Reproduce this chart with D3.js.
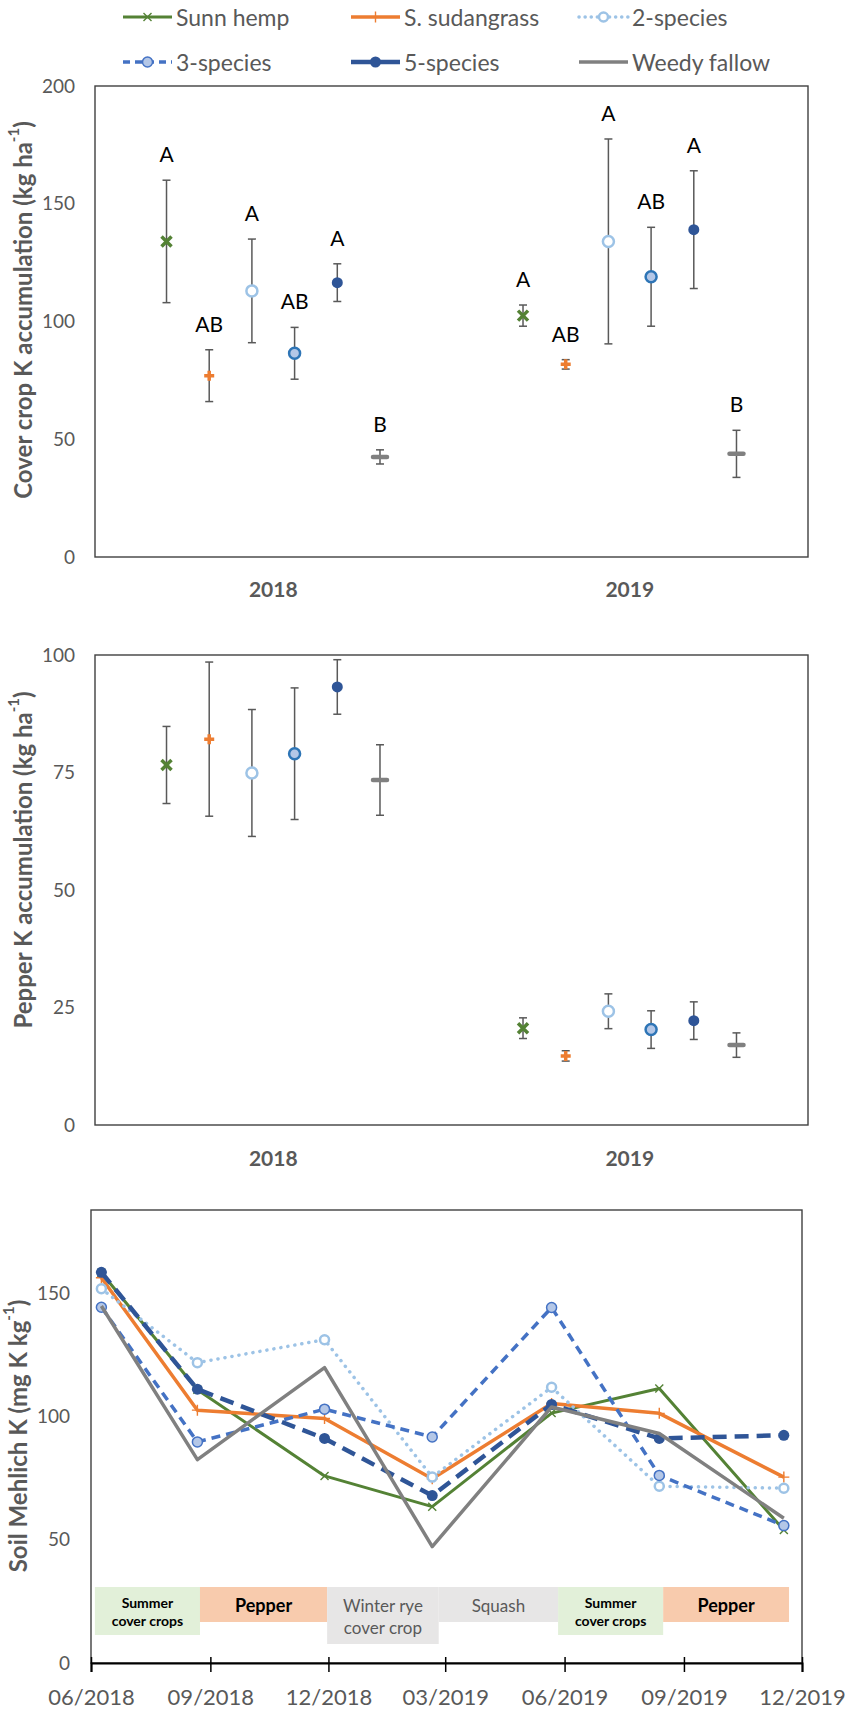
<!DOCTYPE html>
<html>
<head>
<meta charset="utf-8">
<script src="https://cdn.jsdelivr.net/npm/d3@7"></script>
<style>
  body { margin: 0; background: #fff; }
  text { font-family: Lato, "Open Sans", sans-serif; }
</style>
</head>
<body>
<div id="chart"></div>
<script>
// treatments and years
const treatments = ["Sunn hemp", "S. sudangrass", "2-species", "3-species", "5-species", "Weedy fallow"];
const years = ["2018", "2019"];

// cover crop K accumulation (kg ha-1) : mean + error
const coverK2018 = [134, 77, 113, 86.5, 116.5, 42.5];
const coverErr2018 = [26, 11, 22, 11, 8, 3];
const coverLetters2018 = ["A", "AB", "A", "AB", "A", "B"];
const coverK2019 = [102.5, 81.8, 134, 119, 139, 43.8];
const coverErr2019 = [4.5, 2, 43.5, 21, 25, 10];
const coverLetters2019 = ["A", "AB", "A", "AB", "A", "B"];

// pepper K accumulation (kg ha-1)
const pepperK2018 = [76.6, 82.1, 74.9, 79, 93.2, 73.4];
const pepperErr2018 = [8.2, 16.4, 13.5, 14, 5.8, 7.5];
const pepperK2019 = [20.6, 14.7, 24.2, 20.3, 22.2, 17];
const pepperErr2019 = [2.2, 1.1, 3.7, 4, 4, 2.6];

// soil Mehlich K (mg K kg-1), one value per sampling date
const sampleDates = ["2018-06-09", "2018-08-22", "2018-11-28", "2019-02-19", "2019-05-22", "2019-08-13", "2019-11-17"];
const soilSunnHemp = [158.5, 111, 76, 63.5, 101.5, 111.5, 54];
const soilSudangrass = [156.5, 102.7, 99.3, 74.8, 105.4, 101.4, 75.5];
const soil2Species = [152, 122, 131.3, 75.5, 112, 71.8, 71];
const soil3Species = [144.5, 89.8, 103.1, 91.8, 144.4, 76.2, 55.8];
const soil5Species = [158.7, 111.2, 91.2, 68, 105, 91.2, 92.5];
const soilWeedy = [145, 82.6, 120, 47.3, 104, 93.2, 58.8];
const soilSeries = [soilSunnHemp, soilSudangrass, soil2Species, soil3Species, soil5Species, soilWeedy];

// crop periods shown as boxes in the bottom panel
const periodNames = [["Summer", "cover crops"], ["Pepper"], ["Winter rye", "cover crop"], ["Squash"], ["Summer", "cover crops"], ["Pepper"]];
const periodStarts = ["2018-06-04", "2018-08-24", "2018-11-30", "2019-02-24", "2019-05-27", "2019-08-16"];
const periodEnds = ["2018-08-24", "2018-11-30", "2019-02-24", "2019-05-27", "2019-08-16", "2019-11-21"];
const periodKinds = ["cover", "pepper", "rye", "squash", "cover", "pepper"];

const dateTicks = ["2018-06-01", "2018-09-01", "2018-12-01", "2019-03-01", "2019-06-01", "2019-09-01", "2019-12-01"];

// couleurs / styles
const colors = ["#548235", "#ED7D31", "#9DC3E6", "#4472C4", "#2F5597", "#808080"];
const dashes = [null, null, "0.1 7", "9 6", "14 8", null];
const lineWidths = [3, 3.5, 3.5, 3.5, 4.5, 3.5];
const grey = "#595959";
const parseDate = d3.timeParse("%Y-%m-%d");

const svg = d3.select("#chart").append("svg").attr("width", 851).attr("height", 1715);

// draws the marker of series i, "big" = panels a/b, otherwise line panel
function marker(g, i, big) {
  const c = colors[i];
  if (i == 0) {
    const s = big ? 5 : 4;
    g.append("path").attr("d", `M${-s},${-s}L${s},${s}M${-s},${s}L${s},${-s}`)
      .attr("stroke", c).attr("stroke-width", big ? 3.5 : 1.4).attr("fill", "none");
  } else if (i == 1) {
    const s = big ? 5 : 5.5;
    g.append("path").attr("d", `M${-s},0L${s},0M0,${-s}L0,${s}`)
      .attr("stroke", c).attr("stroke-width", big ? 3.5 : 1.4).attr("fill", "none");
  } else if (i == 2) {
    g.append("circle").attr("r", big ? 5.5 : 4.5).attr("fill", "#fff")
      .attr("stroke", c).attr("stroke-width", 2.5);
  } else if (i == 3) {
    g.append("circle").attr("r", big ? 5.5 : 5).attr("fill", "#B4C7E7")
      .attr("stroke", big ? "#2E75B6" : "#4472C4").attr("stroke-width", big ? 2.5 : 1.5);
  } else if (i == 4) {
    g.append("circle").attr("r", 5.5).attr("fill", c);
  } else if (big) {
    g.append("path").attr("d", "M-7,0L7,0").attr("stroke", c)
      .attr("stroke-width", 4.5).attr("stroke-linecap", "round");
  }
}

function yTitle(x, y, label) {
  const t = svg.append("text").attr("transform", `translate(${x},${y}) rotate(-90)`)
    .attr("text-anchor", "middle").attr("dominant-baseline", "central")
    .attr("font-size", 24).attr("font-weight", "bold").attr("fill", grey);
  t.append("tspan").text(label);
  t.append("tspan").attr("font-size", 15).attr("dy", -9).text("-1");
  t.append("tspan").attr("dy", 9).text(")");
}

// legend
const legCols = [123, 351, 579];
const legRows = [17, 62];
treatments.forEach(function (name, i) {
  const lx = legCols[i % 3];
  const ly = legRows[Math.floor(i / 3)];
  const g = svg.append("g");
  g.append("line").attr("x1", lx).attr("x2", lx + 49).attr("y1", ly).attr("y2", ly)
    .attr("stroke", colors[i]).attr("stroke-width", lineWidths[i])
    .attr("stroke-dasharray", i == 2 ? "0.1 6" : i == 3 ? "7 5" : null)
    .attr("stroke-linecap", i == 2 ? "round" : "butt");
  marker(g.append("g").attr("transform", `translate(${lx + 24.5},${ly})`), i, false);
  g.append("text").attr("x", lx + 53).attr("y", ly).attr("dominant-baseline", "central")
    .attr("font-size", 23).attr("fill", grey).text(name);
});

// dot + error bar panels (a and b)
function dotPanel(top, bottom, yMax, step, means, errs, letters, labelPad) {
  const x0 = d3.scaleBand().domain(years).range([95, 808]);
  const x1 = d3.scalePoint().domain(treatments).range([0, x0.bandwidth()]).padding(1.675);
  const y = d3.scaleLinear().domain([0, yMax]).range([bottom, top]);

  svg.append("rect").attr("x", 95).attr("y", top).attr("width", 713).attr("height", bottom - top)
    .attr("fill", "none").attr("stroke", "#404040").attr("stroke-width", 1.4);

  const ya = svg.append("g").attr("transform", "translate(95,0)")
    .call(d3.axisLeft(y).tickValues(d3.range(0, yMax + 1, step)).tickSize(0).tickPadding(20));
  ya.select(".domain").remove();
  ya.selectAll("text").attr("font-size", 19).attr("fill", grey).attr("font-family", null);

  const xa = svg.append("g").attr("transform", `translate(0,${bottom})`)
    .call(d3.axisBottom(x0).tickSize(0).tickPadding(labelPad));
  xa.select(".domain").remove();
  xa.selectAll("text").attr("font-size", 21).attr("font-weight", "bold").attr("fill", grey).attr("font-family", null);

  years.forEach(function (yr, k) {
    treatments.forEach(function (t, i) {
      const cx = x0(yr) + x1(t);
      const m = means[k][i], e = errs[k][i];
      const g = svg.append("g");
      g.append("line").attr("x1", cx).attr("x2", cx).attr("y1", y(m - e)).attr("y2", y(m + e))
        .attr("stroke", grey).attr("stroke-width", 1.5);
      [m - e, m + e].forEach(function (v) {
        g.append("line").attr("x1", cx - 4).attr("x2", cx + 4).attr("y1", y(v)).attr("y2", y(v))
          .attr("stroke", grey).attr("stroke-width", 1.5);
      });
      marker(g.append("g").attr("transform", `translate(${cx},${y(m)})`), i, true);
      if (letters) {
        g.append("text").attr("x", cx).attr("y", y(m + e) - 18).attr("text-anchor", "middle")
          .attr("font-size", 21).attr("fill", "#000").text(letters[k][i]);
      }
    });
  });
}

dotPanel(86, 557, 200, 50, [coverK2018, coverK2019], [coverErr2018, coverErr2019],
  [coverLetters2018, coverLetters2019], 25);
yTitle(22, 310, "Cover crop K accumulation (kg ha");

dotPanel(655, 1125, 100, 25, [pepperK2018, pepperK2019], [pepperErr2018, pepperErr2019], null, 26);
yTitle(22, 860, "Pepper K accumulation (kg ha");

// soil panel (c)
const top3 = 1210, bottom3 = 1663;
const xt = d3.scaleTime().domain([parseDate(dateTicks[0]), parseDate(dateTicks[dateTicks.length - 1])]).range([91, 802]);
const y3 = d3.scaleLinear().domain([0, 184]).range([bottom3, top3]);

svg.append("rect").attr("x", 91).attr("y", top3).attr("width", 711).attr("height", bottom3 - top3)
  .attr("fill", "none").attr("stroke", "#404040").attr("stroke-width", 1.4);

const ya3 = svg.append("g").attr("transform", "translate(91,0)")
  .call(d3.axisLeft(y3).tickValues([0, 50, 100, 150]).tickSize(0).tickPadding(21));
ya3.select(".domain").remove();
ya3.selectAll("text").attr("font-size", 19).attr("fill", grey).attr("font-family", null);

const xa3 = svg.append("g").attr("transform", `translate(0,${bottom3})`)
  .call(d3.axisBottom(xt).tickValues(dateTicks.map(parseDate)).tickFormat(d3.timeFormat("%m/%Y"))
    .tickSize(9).tickPadding(17));
xa3.select(".domain").attr("stroke", "#000").attr("stroke-width", 2);
xa3.selectAll(".tick line").attr("y1", -6).attr("stroke", "#000").attr("stroke-width", 1.5);
xa3.selectAll("text").attr("font-size", 22).attr("fill", grey).attr("font-family", null);

yTitle(17, 1436, "Soil Mehlich K (mg K kg");

// crop period boxes
const boxFill = { cover: "#E2F0D9", pepper: "#F8CBAD", rye: "#E7E6E6", squash: "#E7E6E6" };
const boxHeight = { cover: 48, pepper: 35, rye: 57, squash: 35 };
const boxTop = 1587;
periodKinds.forEach(function (kind, i) {
  const x1 = xt(parseDate(periodStarts[i])), x2 = xt(parseDate(periodEnds[i]));
  svg.append("rect").attr("x", x1).attr("y", boxTop).attr("width", x2 - x1)
    .attr("height", boxHeight[kind]).attr("fill", boxFill[kind]);
  const lines = periodNames[i];
  const bold = kind == "cover" || kind == "pepper";
  const fs = kind == "cover" ? 14 : kind == "pepper" ? 18 : 17;
  const lh = kind == "cover" ? 18 : 22;
  lines.forEach(function (l, j) {
    svg.append("text").attr("x", (x1 + x2) / 2).attr("y", (kind == "cover" ? 1602 : 1605) + j * lh)
      .attr("text-anchor", "middle").attr("dominant-baseline", "central")
      .attr("font-size", fs).attr("font-weight", bold ? "bold" : "normal")
      .attr("fill", bold ? "#000" : grey).text(l);
  });
});

// lines + markers
const line = d3.line().x((d, j) => xt(parseDate(sampleDates[j]))).y(d => y3(d));
soilSeries.forEach(function (vals, i) {
  svg.append("path").datum(vals).attr("d", line).attr("fill", "none")
    .attr("stroke", colors[i]).attr("stroke-width", lineWidths[i])
    .attr("stroke-dasharray", dashes[i])
    .attr("stroke-linecap", i == 2 ? "round" : "butt")
    .attr("stroke-linejoin", "round");
  vals.forEach(function (v, j) {
    marker(svg.append("g").attr("transform", `translate(${xt(parseDate(sampleDates[j]))},${y3(v)})`), i, false);
  });
});
</script>
</body>
</html>
